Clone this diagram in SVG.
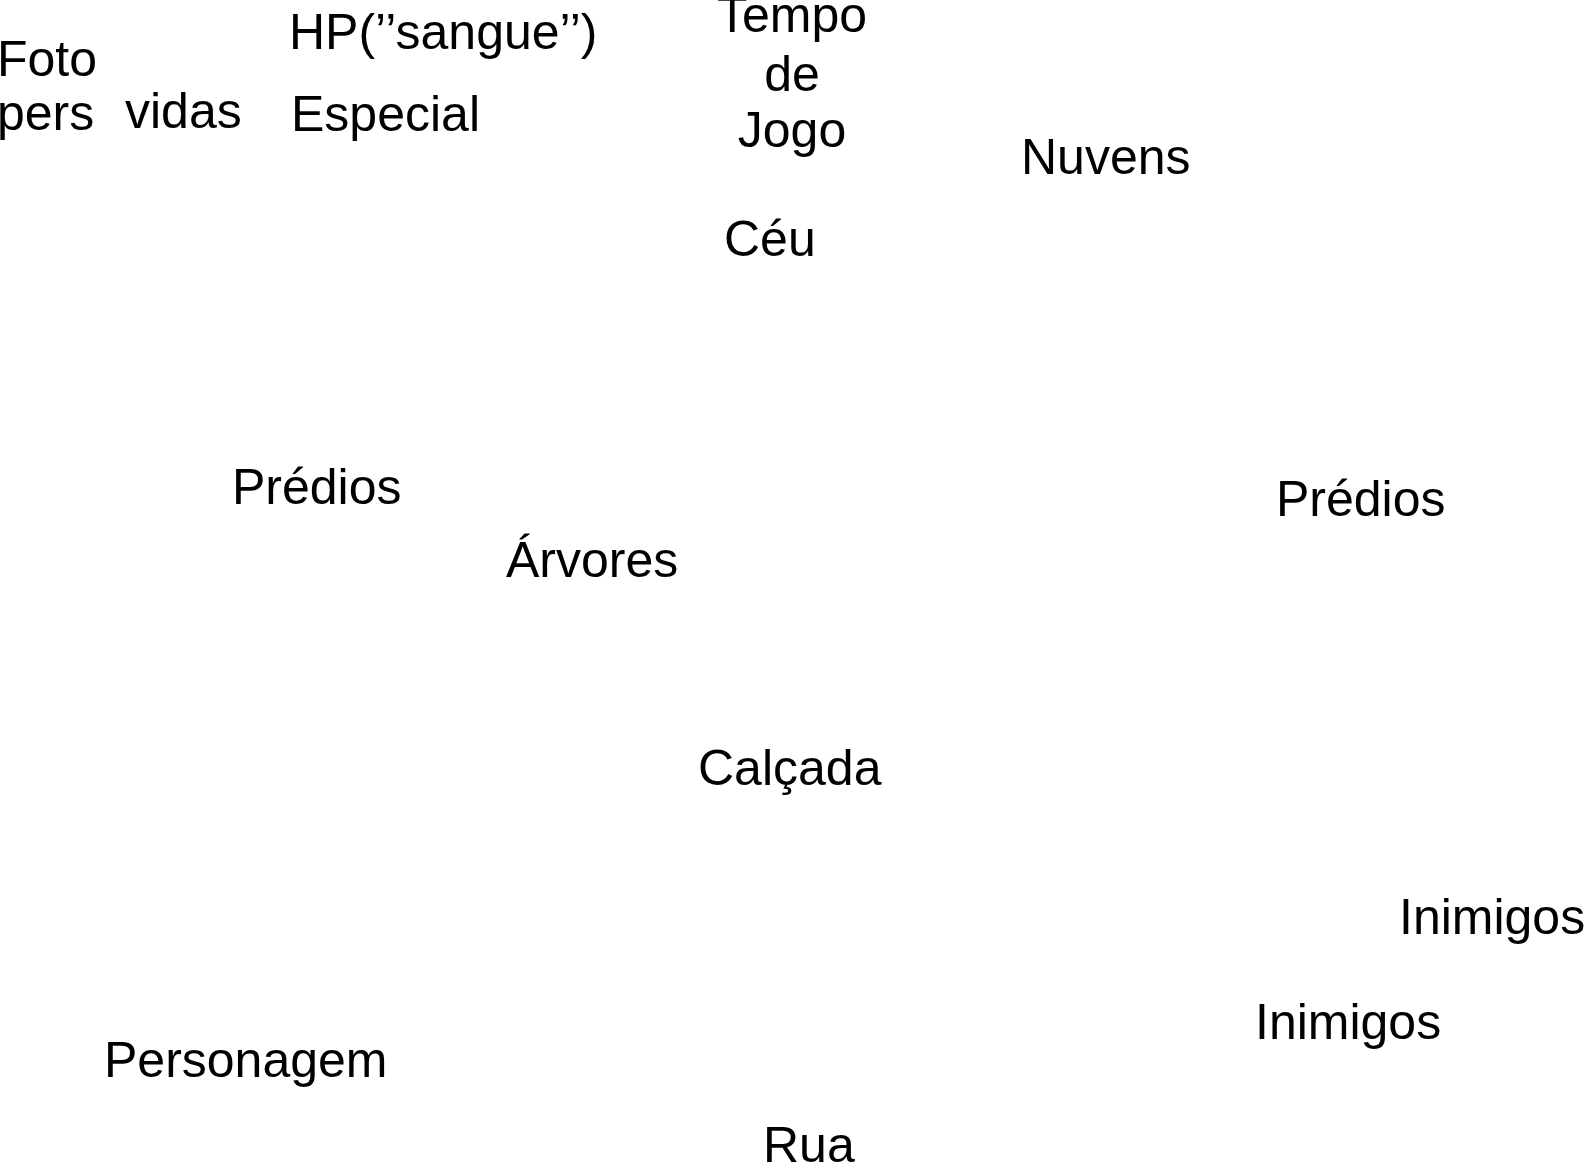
<svg xmlns="http://www.w3.org/2000/svg" width="1585" height="1164" viewBox="0 0 1585 1164">
<style>
text{font-family:"Liberation Sans",Arial,sans-serif;font-size:50px;fill:#000}
.c{text-anchor:middle}
</style>
<rect width="1585" height="1164" fill="#fff"/>
<g id="foto"><text x="-3" y="76">Foto</text><text x="-3" y="130">pers</text></g>
<g id="vidas"><text x="125" y="128">vidas</text></g>
<g id="hp"><text x="289" y="49">HP(’’sangue’’)</text></g>
<g id="especial"><text x="291" y="131">Especial</text></g>
<g id="tempo"><text class="c" x="792" y="32">Tempo</text><text class="c" x="792" y="91">de</text><text class="c" x="792" y="147">Jogo</text></g>
<g id="nuvens"><text x="1021" y="174">Nuvens</text></g>
<g id="ceu"><text x="724" y="256">Céu</text></g>
<g id="predios1"><text x="232" y="504">Prédios</text></g>
<g id="arvores"><text x="506" y="577">Árvores</text></g>
<g id="predios2"><text x="1276" y="516">Prédios</text></g>
<g id="calcada"><text x="698" y="785">Calçada</text></g>
<g id="inimigos1"><text x="1399" y="934">Inimigos</text></g>
<g id="inimigos2"><text x="1255" y="1039">Inimigos</text></g>
<g id="personagem"><text x="104" y="1077">Personagem</text></g>
<g id="rua"><text x="763" y="1162">Rua</text></g>
<g id="connectors"></g>
</svg>
